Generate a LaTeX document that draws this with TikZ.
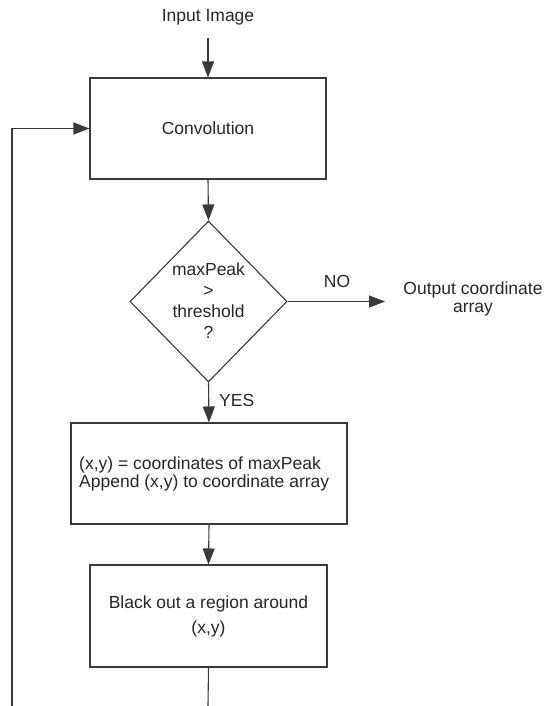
\documentclass[tikz,border=0pt]{standalone}
\usepackage{fontspec}
\setmainfont{Liberation Sans}
\usetikzlibrary{arrows.meta,shapes.geometric}
\definecolor{lc}{HTML}{3A3A3A}
\definecolor{tc}{HTML}{262626}
\begin{document}
\begin{tikzpicture}[x=1pt,y=-1pt,
  line/.style={draw=lc, line width=1.1pt},
  arr/.style={line, -{Triangle[length=16pt,width=12pt]}},
  txt/.style={text=tc, inner sep=0pt, align=center, font=\fontsize{17.5}{21}\selectfont},
  box/.style={draw=lc, line width=1.1pt, rectangle, inner sep=0pt, text=tc, align=center, font=\fontsize{17.5}{21}\selectfont}]
\useasboundingbox (0,0) rectangle (548,706);

\node[txt] (in) at (208,17) {Input Image};
\coordinate (inend) at (208,38);
\node[box, minimum width=236pt, minimum height=101pt] (conv) at (208,128.5) {Convolution};
\node[diamond, draw=lc, line width=1.1pt, minimum width=157pt, minimum height=161pt, inner sep=0pt] (dia) at (208.5,301.5) {};
\node[txt] (diat) at (208.5,301) {maxPeak\\\textgreater\\threshold\\?};
\coordinate (outp) at (385,301.5);
\node[txt] (no) at (337,281) {NO};
\node[txt, font=\fontsize{17.5}{18}\selectfont] (out) at (473,299) {Output coordinate\\array};
\node[txt, anchor=west] (yes) at (219,400.5) {YES};
\node[box, minimum width=276pt, minimum height=101pt] (b2) at (209,473.5) {};
\node[txt, anchor=west, align=left, font=\fontsize{17.5}{18}\selectfont] (b2t) at (79,473.5) {(x,y) = coordinates of maxPeak\\Append (x,y) to coordinate array};
\node[box, minimum width=237pt, minimum height=102pt, font=\fontsize{17.5}{25}\selectfont] (b3) at (208.5,616) {Black out a region around\\(x,y)};
\coordinate (bl) at (208,706);
\coordinate (lb) at (12,706);

\draw[arr] (inend) -- (conv.north);
\draw[arr] (conv.south) -- (dia.north);
\draw[arr] (dia.east) -- (outp);
\draw[arr] (dia.south) -- (b2.north);
\draw[arr] (b2.south) -- (b3.north);
\draw[line] (b3.south) -- (bl);
\draw[arr] (lb) |- (conv.west);
\end{tikzpicture}
\end{document}
